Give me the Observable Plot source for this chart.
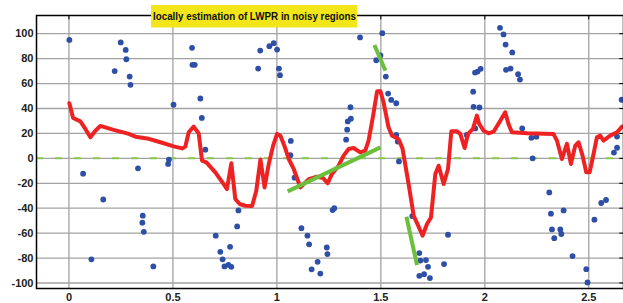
<!DOCTYPE html>
<html><head><meta charset="utf-8">
<script src="https://cdn.jsdelivr.net/npm/d3@7"></script>
<script src="https://cdn.jsdelivr.net/npm/@observablehq/plot@0.6"></script>
<style>body{margin:0;background:#fff} #chart{position:relative;width:623px;height:303px}</style>
</head><body><div id="chart"></div>
<script>
// Noisy samples (blue dots)
const dotX = [0.002,0.068,0.108,0.165,0.22,0.249,0.273,0.276,0.292,0.296,0.332,0.355,0.353,0.36,0.406,0.477,0.481,0.503,0.592,0.594,0.605,0.632,0.639,0.656,0.706,0.728,0.739,0.748,0.767,0.781,0.775,0.809,0.815,0.91,0.92,0.964,0.985,1.001,1.01,1.015,1.067,1.065,1.085,1.118,1.147,1.155,1.167,1.196,1.209,1.24,1.243,1.268,1.276,1.333,1.338,1.341,1.356,1.354,1.40,1.478,1.498,1.507,1.524,1.535,1.55,1.574,1.574,1.581,1.587,1.651,1.685,1.69,1.717,1.727,1.685,1.708,1.736,1.804,1.823,1.913,1.954,1.946,1.974,1.944,1.953,1.965,1.98,2.073,2.09,2.1,2.132,2.102,2.124,2.16,2.169,2.18,2.224,2.248,2.23,2.31,2.318,2.323,2.334,2.363,2.368,2.379,2.422,2.488,2.494,2.527,2.56,2.583,2.621,2.636,2.636,2.658];
const dotY = [95,-12.3,-81,-33,70,93,87,79.5,65.6,59,-8,-46,-51.6,-58.9,-86.7,-4.5,-1,43,88.7,75,75,48,32.4,7,-62,-75,-81,-86.7,-85.4,-87,-71,-54.6,-41.8,72,86.5,90,92.4,87.3,72,66.7,14,2.5,-15.5,-56,-62,-69,-89,-83,-92.4,-71.5,-76.8,-41.5,-40,15,23,29.6,31.8,41,97,78.7,82.5,100.4,65.6,52,46.9,44.2,18.8,13.5,-2.5,-46.3,-76,-82,-81.6,-87,-94.2,-92.9,-96,-84.8,-61.3,18.8,24,41.3,40.8,53.5,68.8,69.6,71.8,104.7,99.4,91.3,85,71,72,67.5,63.2,24.1,16.5,17.4,0,-27.3,-44.4,-57,-64,-57,-60.7,-41.8,-78.4,-88.9,-99.6,-49.2,-35.8,-33.4,4.6,8.5,17.5,47];

// LWPR estimate (red line)
const fitX = [0.002,0.02,0.055,0.079,0.103,0.127,0.151,0.215,0.288,0.32,0.376,0.44,0.504,0.544,0.56,0.576,0.6,0.624,0.64,0.661,0.704,0.744,0.76,0.781,0.8,0.821,0.849,0.881,0.901,0.921,0.941,0.961,0.982,1.001,1.017,1.036,1.057,1.081,1.113,1.153,1.193,1.222,1.244,1.265,1.297,1.321,1.345,1.369,1.401,1.425,1.441,1.463,1.482,1.498,1.513,1.537,1.554,1.585,1.604,1.634,1.658,1.701,1.722,1.741,1.762,1.778,1.802,1.823,1.839,1.866,1.882,1.903,1.919,1.943,1.962,1.973,1.994,2.018,2.042,2.075,2.098,2.114,2.13,2.203,2.33,2.347,2.371,2.395,2.414,2.435,2.451,2.47,2.488,2.504,2.523,2.539,2.555,2.571,2.603,2.636,2.66];
const fitY = [44.2,32.4,29.7,23.6,16.9,22.2,26,22.8,19.6,17.4,16,12.9,9.6,8,9.5,20.9,25.5,20,-1.8,-3.2,-11.2,-20.6,-24.6,-4,-32.6,-36.6,-38,-38.3,-26,-1,-23.3,-4.5,10.2,19.6,18.2,10.2,-0.5,-8.5,-23.3,-16.6,-14.7,-15.8,-20,-12.5,-5.9,2.2,7.5,8.3,4.8,6.2,14.2,34.3,53.8,53.8,45,24.9,18.2,15.5,8,-21,-46,-62,-52.7,-47.4,-12.5,-5.9,-20.6,-8.5,21.7,21.7,19.6,8.3,19.6,23.6,34.3,27.6,22.2,20.1,21.4,30.3,37,27.6,20.9,20.1,19.6,14.2,-0.5,11.6,-4.5,10.2,12.9,2.2,-11.2,-11.2,3.5,16.9,18.2,14.2,18.2,20.9,25.5];

// Local linear models (green segments)
const segX1 = [1.052,1.469,1.623];
const segY1 = [-26.5,91,-46.8];
const segX2 = [1.498,1.522,1.674];
const segY2 = [8.8,70.4,-85.6];

const xTicks = [0,0.5,1,1.5,2,2.5];
const xTickLabels = ["0","0.5","1","1.5","2","2.5"];
const yTicks = [-100,-80,-60,-40,-20,0,20,40,60,80,100];
const yTickLabels = ["-100","-80","-60","-40","-20","0","20","40","60","80","100"];
const zeroLine = [0];
const title = "locally estimation of LWPR in noisy regions";

const xDom = [-0.156, 2.667];
const yDom = [-104.4, 114.6];

const dots = dotX.map((x, i) => ({x, y: dotY[i]}));
const fit = fitX.map((x, i) => ({x, y: fitY[i]}));
const segs = segX1.map((x1, i) => ({x1, y1: segY1[i], x2: segX2[i], y2: segY2[i]}));

const plot = Plot.plot({
  width: 623, height: 303,
  marginLeft: 36, marginRight: 0, marginTop: 15, marginBottom: 15,
  x: {domain: xDom},
  y: {domain: yDom},
  style: {fontFamily: "'Liberation Sans', Arial, sans-serif", fontWeight: "bold", fontSize: "11px", color: "#222", background: "#fff"},
  marks: [
    Plot.ruleY(yTicks, {stroke: "#a3a3a3", strokeWidth: 1.3}),
    Plot.ruleX(xTicks, {stroke: "#a3a3a3", strokeWidth: 1.3}),
    Plot.ruleY(zeroLine, {stroke: "#86c84f", strokeWidth: 2, strokeDasharray: "7,12"}),
    Plot.dot(dots, {x: "x", y: "y", r: 2.9, fill: "#2e4fa6", stroke: "none"}),
    Plot.line(fit, {x: "x", y: "y", stroke: "#ee2222", strokeWidth: 4, strokeLinejoin: "round", curve: "linear"}),
    Plot.link(segs, {x1: "x1", y1: "y1", x2: "x2", y2: "y2", stroke: "#6cbf3c", strokeWidth: 4}),
    Plot.frame({stroke: "#000", strokeWidth: 1.5}),
    Plot.ruleX(xTicks, {y1: yDom[1], y2: yDom[1] - 3.5, stroke: "#000", strokeWidth: 1}),
    Plot.ruleY(yTicks, {x1: xDom[1] - 0.018, x2: xDom[1], stroke: "#000", strokeWidth: 1}),
    Plot.axisY({ticks: yTicks, tickSize: 0, tickPadding: 3, label: null, tickFormat: d => yTickLabels[yTicks.indexOf(d)]}),
    Plot.axisX({ticks: xTicks, tickSize: 0, tickPadding: 5, label: null, tickFormat: d => xTickLabels[xTicks.indexOf(d)]})
  ]
});

const svg = d3.select(plot);
const g = svg.append("g");
g.append("rect").attr("x", 151).attr("y", 5).attr("width", 206).attr("height", 22.5).attr("fill", "#f2e61a");
g.append("text").attr("x", 153).attr("y", 19.5).attr("font-size", 11.5).attr("font-weight", "bold")
  .attr("text-anchor", "start")
  .attr("fill", "#111").attr("textLength", 203).attr("lengthAdjust", "spacingAndGlyphs")
  .attr("font-family", "'Liberation Sans', Arial, sans-serif").text(title);

document.getElementById("chart").appendChild(plot);
</script>
</body></html>
